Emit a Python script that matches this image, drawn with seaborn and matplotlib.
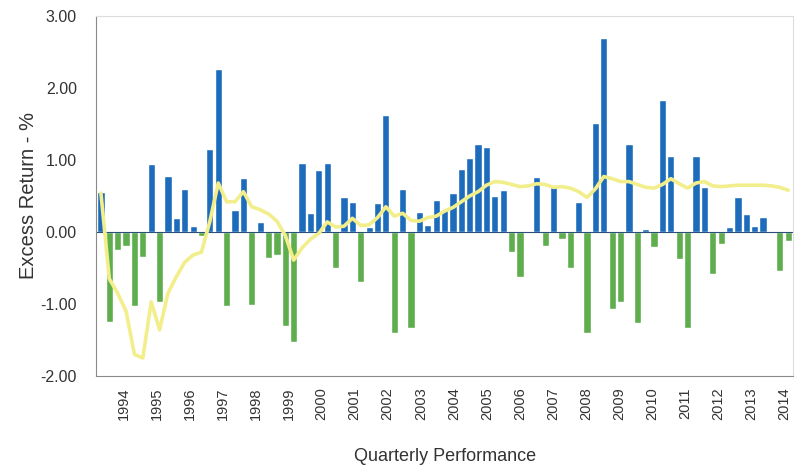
import numpy as np
import pandas as pd
import matplotlib
matplotlib.use("Agg")
import matplotlib.pyplot as plt
import seaborn as sns

# quarterly excess return bars, 1993 Q2 .. 2013 Q4
excess = [0.55, -1.25, -0.25, -0.20, -1.03, -0.35, 0.94, -0.97, 0.78, 0.20,
          0.60, 0.08, -0.06, 1.15, 2.26, -1.03, 0.30, 0.75, -1.01, 0.14,
          -0.36, -0.32, -1.31, -1.53, 0.96, 0.26, 0.86, 0.96, -0.50, 0.49,
          0.42, -0.70, 0.07, 0.40, 1.62, -1.40, 0.60, -1.34, 0.28, 0.10,
          0.44, 0.31, 0.54, 0.87, 1.03, 1.22, 1.18, 0.50, 0.58, -0.28,
          -0.62, 0.02, 0.76, -0.20, 0.62, -0.10, -0.50, 0.41, -1.40, 1.51,
          2.70, -1.07, -0.97, 1.22, -1.27, 0.04, -0.21, 1.83, 1.05, -0.37,
          -1.34, 1.06, 0.63, -0.58, -0.16, 0.07, 0.49, 0.25, 0.08, 0.21,
          -0.02, -0.54, -0.13]

# running (annualised) excess return line
running = [0.54, -0.65, -0.85, -1.10, -1.70, -1.75, -0.97, -1.36, -0.85, -0.62,
           -0.42, -0.32, -0.28, 0.15, 0.68, 0.42, 0.42, 0.56, 0.35, 0.31,
           0.25, 0.15, -0.05, -0.39, -0.22, -0.10, -0.02, 0.14, 0.07, 0.08,
           0.19, 0.09, 0.10, 0.20, 0.35, 0.22, 0.26, 0.16, 0.15, 0.20,
           0.22, 0.29, 0.34, 0.42, 0.50, 0.56, 0.65, 0.70, 0.69, 0.66,
           0.63, 0.64, 0.67, 0.66, 0.62, 0.63, 0.61, 0.56, 0.48, 0.60,
           0.77, 0.74, 0.70, 0.70, 0.66, 0.62, 0.61, 0.66, 0.74, 0.67,
           0.61, 0.68, 0.70, 0.64, 0.63, 0.64, 0.65, 0.65, 0.65, 0.65,
           0.64, 0.62, 0.58]

quarters = [f"{1993 + (q + 1) // 4} Q{(q + 1) % 4 + 1}" for q in range(len(excess))]
years = [str(y) for y in range(1994, 2015)]
y_ticks = [3.0, 2.0, 1.0, 0.0, -1.0, -2.0]

df = pd.DataFrame({"quarter": quarters, "excess": excess})
df["sign"] = np.where(df["excess"] >= 0, "pos", "neg")

sns.set_style("white")
plt.rcParams["font.family"] = ["Liberation Sans", "DejaVu Sans"]

fig = plt.figure(figsize=(7.96, 4.70), dpi=100)
ax = fig.add_axes([0.121, 0.2, 0.875, 0.766])

sns.barplot(data=df, x="quarter", y="excess", hue="sign",
            palette={"pos": "#1d6cbc", "neg": "#5fae4e"},
            dodge=False, width=0.86, legend=False, saturation=1, ax=ax)
sns.lineplot(x=np.arange(len(running)), y=running, color="#f3ee8c",
             linewidth=2.6, ax=ax)

ax.axhline(0, color="#2a4f7a", linewidth=0.8, zorder=1)
ax.set_xlim(-0.55, len(excess) - 0.45)
ax.set_ylim(-2.0, 3.0)
ax.set_yticks(y_ticks)
ax.set_yticklabels([f"{v:.2f}" for v in y_ticks], fontsize=11.5, color="#333333")
ax.set_xticks(np.linspace(2.7, 81.5, len(years)))
ax.set_xticklabels(years, rotation=90, fontsize=10.5, color="#333333")
ax.tick_params(axis="y", length=3, color="#888888", pad=11)
ax.tick_params(axis="x", length=0, pad=8)

ax.set_xlabel("Quarterly Performance", fontsize=13, color="#333333", labelpad=20)
ax.set_ylabel("Excess Return - %", fontsize=14.5, color="#333333", labelpad=2)

for side in ["left", "bottom"]:
    ax.spines[side].set_color("#8a8a8a")
for side in ["top", "right"]:
    ax.spines[side].set_color("#dddddd")

fig.savefig("out.png", dpi=100)
